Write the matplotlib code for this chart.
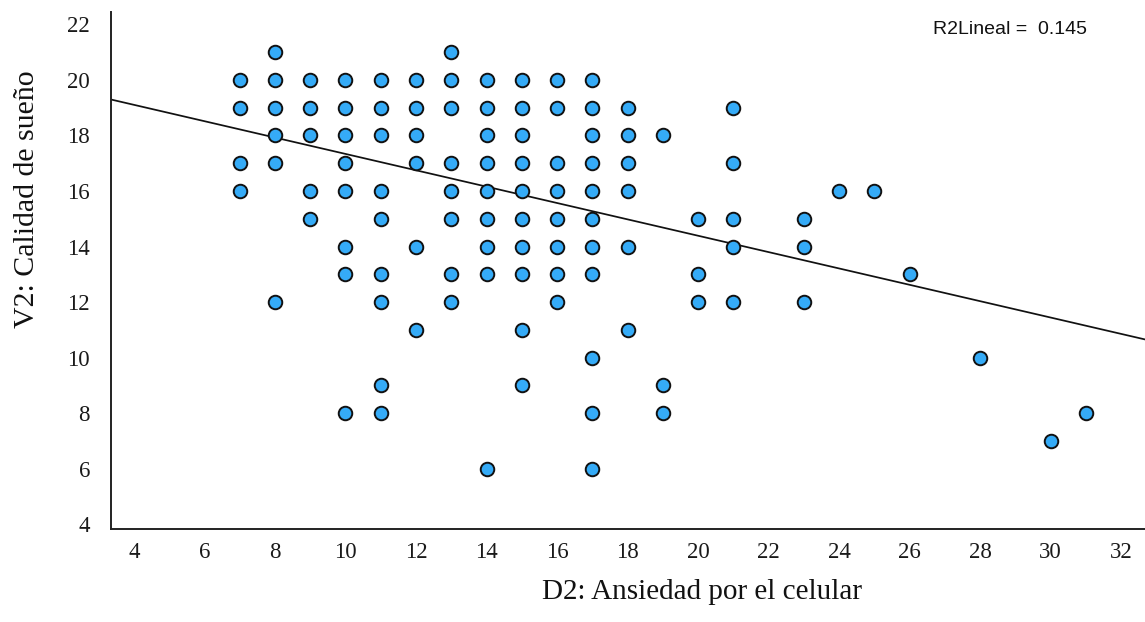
import matplotlib
matplotlib.use("Agg")
import matplotlib.pyplot as plt
import numpy as np

# D2: Ansiedad por el celular (x)  /  V2: Calidad de sueño (y)
ansiedad = ([7] * 4 + [8] * 6 + [9] * 5 + [10] * 8 + [11] * 9 + [12] * 6 +
            [13] * 8 + [14] * 9 + [15] * 10 + [16] * 8 + [17] * 11 + [18] * 6 +
            [19] * 3 + [20] * 3 + [21] * 5 + [23] * 3 + [24, 25, 26, 28, 30, 31])
calidad = [20, 19, 17, 16,
           21, 20, 19, 18, 17, 12,
           20, 19, 18, 16, 15,
           20, 19, 18, 17, 16, 14, 13, 8,
           20, 19, 18, 16, 15, 13, 12, 9, 8,
           20, 19, 18, 17, 14, 11,
           21, 20, 19, 17, 16, 15, 13, 12,
           20, 19, 18, 17, 16, 15, 14, 13, 6,
           20, 19, 18, 17, 16, 15, 14, 13, 11, 9,
           20, 19, 17, 16, 15, 14, 13, 12,
           20, 19, 18, 17, 16, 15, 14, 13, 10, 8, 6,
           19, 18, 17, 16, 14, 11,
           18, 9, 8,
           15, 13, 12,
           19, 17, 15, 14, 12,
           15, 14, 12,
           16, 16, 13, 10, 7, 8]

# recta de ajuste
intercepto, pendiente = 20.28, -0.2945
r2 = 0.145

xticks = list(range(4, 33, 2))
yticks = list(range(4, 23, 2))

fig = plt.figure(figsize=(11.45, 6.22), dpi=100)
ax = fig.add_axes([0.0967, 0.1495, 0.9033, 0.831])

ax.scatter(ansiedad, calidad, s=95, color='#35abf7', edgecolor='#111111',
           linewidth=1.4, zorder=3)

xlim = (3.34, 32.68)
xl = np.array(xlim)
ax.plot(xl, intercepto + pendiente * xl, color='#111111', lw=1.25, zorder=2)

ax.set_xlim(*xlim)
ax.set_ylim(3.83, 22.44)
ax.set_xticks(xticks)
ax.set_yticks(yticks)
for s in ['top', 'right']:
    ax.spines[s].set_visible(False)
for s in ['left', 'bottom']:
    ax.spines[s].set_linewidth(1.4)
    ax.spines[s].set_color('#222222')

ax.tick_params(axis='both', length=0, labelsize=16.5)
ax.tick_params(axis='y', pad=15)
ax.tick_params(axis='x', pad=9)
for lab in ax.get_xticklabels() + ax.get_yticklabels():
    lab.set_fontfamily('Liberation Serif')
    lab.set_color('#1a1a1a')

fig.text(0.613, 0.048, 'D2: Ansiedad por el celular', fontsize=21,
         family='Liberation Serif', ha='center', va='center', color='#111111')
fig.text(0.024, 0.68, 'V2: Calidad de sueño', fontsize=21.5, rotation=90,
         family='Liberation Serif', ha='center', va='center', color='#111111')

fig.text(0.815, 0.952, f'R2Lineal =  {r2:.3f}', fontsize=14,
         family='Liberation Sans', ha='left', va='center', color='#111111')

fig.savefig('out.png', dpi=100)
